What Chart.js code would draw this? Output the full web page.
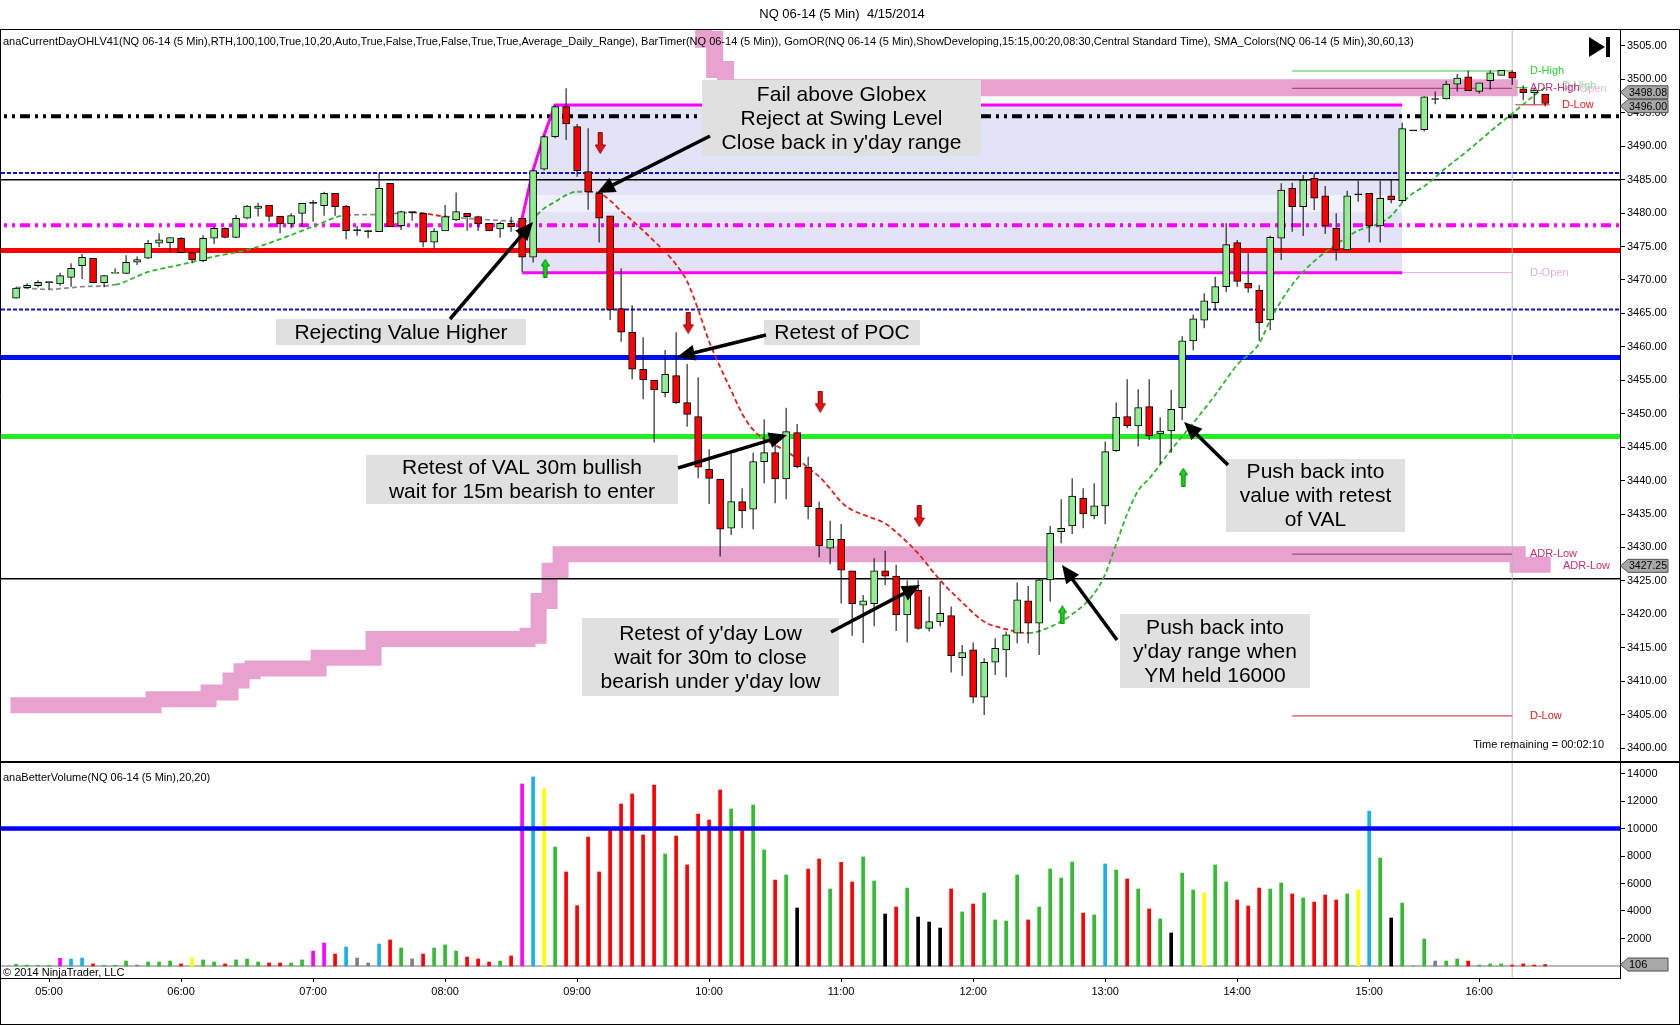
<!DOCTYPE html>
<html>
<head>
<meta charset="utf-8">
<title>NQ 06-14 (5 Min) 4/15/2014</title>
<script src="https://cdn.jsdelivr.net/npm/chart.js@4.4.1/dist/chart.umd.min.js"></script>
<style>
html,body{margin:0;padding:0;background:#fff;}
#wrap{position:relative;width:1680px;height:1025px;overflow:hidden;background:#fff;}
canvas{position:absolute;left:0;}
#c1{top:0;width:1680px;height:762px;}
#c2{top:762px;width:1680px;height:263px;}
</style>
</head>
<body>
<div id="wrap">
<canvas id="c1" width="1680" height="762"></canvas>
<canvas id="c2" width="1680" height="263"></canvas>
</div>
<script>
// ---------------- DATA ----------------
const times = ("04:45 04:50 04:55 05:00 05:05 05:10 05:15 05:20 05:25 05:30 05:35 05:40 05:45 05:50 05:55 " +
 "06:00 06:05 06:10 06:15 06:20 06:25 06:30 06:35 06:40 06:45 06:50 06:55 " +
 "07:00 07:05 07:10 07:15 07:20 07:25 07:30 07:35 07:40 07:45 07:50 07:55 " +
 "08:00 08:05 08:10 08:15 08:20 08:25 08:30 08:35 08:40 08:45 08:50 08:55 " +
 "09:00 09:05 09:10 09:15 09:20 09:25 09:30 09:35 09:40 09:45 09:50 09:55 " +
 "10:00 10:05 10:10 10:15 10:20 10:25 10:30 10:35 10:40 10:45 10:50 10:55 " +
 "11:00 11:05 11:10 11:15 11:20 11:25 11:30 11:35 11:40 11:45 11:50 11:55 " +
 "12:00 12:05 12:10 12:15 12:20 12:25 12:30 12:35 12:40 12:45 12:50 12:55 " +
 "13:00 13:05 13:10 13:15 13:20 13:25 13:30 13:35 13:40 13:45 13:50 13:55 " +
 "14:00 14:05 14:10 14:15 14:20 14:25 14:30 14:35 14:40 14:45 14:50 14:55 " +
 "15:00 15:05 15:10 15:15 15:30 15:35 15:40 15:45 15:50 15:55 " +
 "16:00 16:05 16:10 16:15 16:20 16:25 16:30").split(" ");

const open = [
 3467.3,3468.85,3469.15,3469.6,3469.4,3470.4,3472.15,3473.25,3469.6,3471.0,
 3471.0,3472.65,3473.25,3475.5,3475.6,3476.25,3474.1,3472.9,3476.25,3477.73,
 3476.35,3479.23,3480.72,3481.2,3479.57,3478.38,3479.97,3481.47,3481.12,3482.97,
 3481.07,3477.38,3477.23,3477.23,3484.46,3478.13,3480.07,3479.97,3475.64,3477.33,
 3478.97,3479.97,3479.47,3478.48,3477.63,3478.48,3479.23,3473.4,3486.56,3491.44,
 3495.93,3492.93,3486.2,3482.97,3479.58,3465.72,3462.18,3456.65,3455.05,3453.15,
 3455.7,3451.66,3449.57,3441.69,3440.24,3432.87,3436.86,3435.71,3442.84,3444.18,
 3440.24,3447.17,3441.99,3435.86,3429.9,3431.2,3426.5,3421.35,3421.6,3426.5,
 3425.7,3419.9,3423.6,3417.9,3418.9,3419.8,3413.52,3414.67,3407.59,3412.83,
 3414.67,3417.16,3422.0,3418.66,3425.14,3432.37,3433.22,3437.35,3434.71,3436.21,
 3444.48,3449.57,3448.17,3451.06,3446.97,3447.42,3450.91,3460.9,3464.0,3466.6,
 3469.0,3475.6,3469.5,3468.51,3464.02,3476.24,3483.71,3480.97,3485.21,3482.57,
 3477.73,3474.49,3482.72,3482.97,3478.08,3482.57,3481.87,3492.3,3492.5,3497.0,
 3497.1,3499.3,3500.4,3498.2,3499.8,3500.6,3501.1,3498.6,3498.0,3497.8];
const high = [
 3468.9,3469.5,3469.95,3469.6,3471.1,3472.5,3473.9,3473.25,3470.75,3471.75,
 3473.7,3473.5,3476.0,3477.0,3476.35,3476.4,3474.25,3476.7,3477.98,3477.88,
 3479.73,3481.2,3481.57,3481.2,3479.57,3479.97,3481.47,3481.97,3483.2,3482.97,
 3481.22,3478.08,3477.48,3485.95,3484.46,3480.37,3480.22,3479.97,3477.73,3481.22,
 3483.07,3479.97,3479.62,3478.48,3478.73,3479.47,3479.23,3486.45,3491.69,3496.18,
 3498.67,3493.33,3492.7,3482.97,3479.58,3471.75,3466.21,3461.43,3455.05,3459.54,
 3462.18,3457.44,3455.45,3444.68,3440.24,3443.98,3438.85,3444.18,3449.17,3445.83,
 3450.91,3448.47,3443.58,3436.86,3434.0,3433.5,3426.5,3422.9,3428.4,3429.5,
 3427.4,3425.1,3425.1,3422.65,3424.9,3421.15,3415.42,3415.77,3413.42,3416.42,
 3417.41,3424.74,3424.24,3425.39,3433.22,3437.2,3440.34,3438.85,3439.6,3445.83,
 3451.66,3455.15,3453.65,3455.15,3449.47,3453.55,3461.6,3464.8,3468.0,3470.5,
 3478.5,3476.0,3474.0,3469.26,3476.6,3484.46,3484.56,3485.7,3485.96,3484.06,
 3479.97,3483.36,3484.86,3482.97,3484.86,3484.96,3493.5,3492.3,3497.5,3498.2,
 3499.8,3500.8,3501.3,3499.5,3501.35,3501.35,3501.35,3499.1,3498.8,3497.8];
const low = [
 3467.2,3468.75,3468.9,3468.6,3469.15,3469.0,3470.15,3469.5,3468.9,3471.0,
 3470.9,3472.25,3473.15,3474.9,3474.25,3474.0,3472.5,3472.65,3475.4,3476.25,
 3476.25,3479.1,3479.5,3478.7,3477.0,3477.73,3477.97,3478.73,3479.62,3479.62,
 3476.1,3476.6,3476.25,3477.23,3477.98,3477.48,3478.88,3474.9,3474.64,3477.33,
 3478.83,3477.38,3477.33,3477.33,3476.33,3477.23,3471.25,3472.6,3486.36,3491.19,
 3490.94,3485.46,3480.5,3475.59,3464.02,3460.78,3455.15,3452.16,3445.68,3452.46,
 3451.46,3448.07,3440.34,3436.5,3428.63,3431.87,3432.87,3432.72,3439.6,3436.6,
 3437.2,3441.84,3434.2,3428.53,3427.5,3421.6,3416.8,3415.7,3418.2,3424.4,
 3417.5,3415.8,3417.7,3417.41,3418.16,3411.28,3410.78,3406.69,3404.95,3410.93,
 3410.58,3415.67,3415.67,3413.92,3421.9,3430.62,3432.02,3432.87,3434.21,3433.47,
 3444.33,3447.82,3445.08,3446.08,3442.49,3444.18,3449.07,3459.5,3462.8,3465.5,
 3468.2,3469.0,3468.1,3460.93,3462.5,3472.99,3477.23,3476.58,3480.47,3476.88,
 3472.9,3474.49,3481.72,3475.59,3475.59,3481.47,3481.5,3492.3,3492.2,3496.3,
 3497.0,3498.2,3498.3,3497.9,3498.5,3500.6,3499.15,3496.9,3496.3,3496.0];
const close = [
 3468.8,3469.2,3469.65,3469.6,3470.65,3471.75,3473.4,3469.6,3470.65,3471.05,
 3472.65,3473.05,3475.5,3476.0,3476.35,3474.1,3473.0,3476.25,3477.73,3476.35,
 3479.23,3481.07,3481.07,3479.5,3478.38,3479.62,3481.47,3481.47,3482.97,3480.97,
 3477.38,3477.38,3477.23,3483.7,3477.98,3480.22,3480.07,3475.64,3477.33,3479.47,
 3480.22,3479.47,3478.38,3477.33,3478.48,3477.98,3473.4,3486.35,3491.44,3495.93,
 3493.33,3486.36,3483.2,3479.23,3465.52,3462.18,3456.65,3455.05,3453.55,3455.9,
 3451.66,3449.9,3441.99,3440.34,3432.72,3436.86,3435.46,3442.84,3444.18,3440.24,
 3447.32,3442.09,3436.1,3430.22,3431.2,3426.6,3421.6,3422.0,3426.5,3425.7,
 3419.9,3424.0,3417.9,3418.9,3420.15,3413.82,3414.27,3407.59,3412.83,3414.92,
 3416.92,3422.15,3418.66,3425.14,3432.12,3432.87,3437.7,3435.01,3436.21,3444.33,
 3449.47,3448.17,3450.91,3446.67,3447.42,3450.66,3460.9,3464.2,3466.9,3469.0,
 3475.3,3469.8,3468.76,3463.62,3476.39,3483.46,3480.97,3484.96,3482.22,3478.08,
 3474.49,3482.57,3482.72,3478.08,3482.22,3481.97,3492.65,3492.3,3497.4,3497.0,
 3499.3,3500.2,3498.3,3499.5,3501.0,3501.35,3500.2,3498.0,3498.4,3496.4];

const volume = [
 120,70,50,50,560,510,580,150,50,50,
 360,70,290,290,360,150,610,440,290,150,
 440,510,290,220,220,220,440,1090,1670,870,
 1380,580,220,1600,1890,1310,510,870,1310,1530,
 1090,650,510,290,360,730,13240,13750,12900,8650,
 6840,4390,9380,6840,9890,11780,12510,9530,13160,8150,
 9450,7350,11050,10620,12800,11420,9890,11710,8440,6250,
 6620,4220,7050,7780,5600,7540,6110,7930,6180,3780,
 4290,5670,3560,3200,2760,5600,3930,4510,5310,3350,
 3270,6620,3350,4290,7050,6400,7560,3850,3710,7420,
 6980,6330,5600,4150,3420,2400,6760,5530,5310,7350,
 6110,4800,4360,5670,5600,6040,5240,4950,4650,5160,
 4800,5240,5530,11270,7850,3490,4580,0,1960,360,
 360,510,360,70,150,150,70,150,70,106];
// volume colour class per bar: g up, r down, k black, c cyan, m magenta, y yellow, a gray
const volColorCodes = ("ggggmccrgg gagggryggr gggrrggmmr caacrgargg grrrgrmcyg rrrrrrrrrg " +
 "rrrrrgrggr gkrrgrrggk rgkkkrgrgg ggrggggrgc grgrgkggyg grrrggrgrr rgycgkggga ggrgggrrrr").replace(/ /g, "");

// SMA (colour-coded) read at bar indices
const maIdx = [0,3,6,9,12,15,18,21,24,27,30,33,36,39,42,45,46,47,48,49,
 50,51,52,53,54,55,56,57,58,59,60,61,62,63,64,65,66,67,68,69,70,71,72,73,74,75,76,77,78,79,80,81,82,
 84,86,88,90,92,94,96,98,99,100,101,102,103,105,107,109,111,113,114,116,118,120,122,124,125,126,127,128,
 130,132,134,136,138,139];
const maVal = [3468.9,3468.6,3469.0,3469.3,3471.2,3472.3,3473.5,3474.5,3476.1,3478.0,3479.7,3479.8,3480.1,3479.5,3479.1,3478.8,3478.7,3479.3,3480.7,3481.7,
 3482.7,3483.2,3483.2,3483.0,3481.9,3480.3,3478.9,3477.4,3475.8,3474.2,3472.3,3469.8,3465.6,3460.8,3457.0,3453.5,3450.0,3447.6,3446.2,3445.3,
 3444.4,3443.3,3441.9,3440.6,3438.8,3436.8,3435.6,3434.9,3434.3,3433.6,3432.3,3430.8,3429.1,
 3425.1,3421.8,3418.9,3417.8,3417.2,3418.1,3420.0,3423.1,3426.0,3430.5,3435.0,3438.5,3440.3,3444.6,3448.6,3452.8,3457.3,3460.5,3464.0,3469.3,3472.8,3475.3,3477.4,3478.5,3479.6,3481.5,3483.0,3484.0,
 3486.8,3489.4,3492.2,3494.9,3497.6,3498.8];

// Horizontal reference levels
const levelPrices = [3494.5, 3486.0, 3485.0, 3478.2, 3474.4, 3465.6, 3458.4, 3446.6, 3425.3];

// Opening range (developing high, fixed low)
const orIdx = [46, 47, 48, 49, 126];
const orHigh = [3479.23, 3486.45, 3491.69, 3496.18, 3496.18];
const orLow = 3471.1;
const orMidBand = [3480.2, 3482.7];

// ADR bands: [fromBar, toBar, value]
const adrLowSteps = [[0,12,3406.4],[13,17,3407.3],[18,19,3408.3],[20,20,3410.1],[21,21,3411.5],[22,27,3411.9],
 [28,32,3413.5],[33,46,3416.3],[47,47,3416.8],[48,48,3422.0],[49,49,3426.5],[50,136,3429.0],[137,139,3427.4]];
const adrHighSteps = [[60,62,3512.0],[63,63,3506.0],[64,64,3501.5],[65,136,3498.75]];

// Short current-day lines on the right: value, from bar, to bar
const dayLineVal  = [3501.26, 3498.67, 3429.0, 3404.8, 3471.1, 3498.8, 3496.2];
const dayLineFrom = [116, 116, 116, 116, 126, 136.3, 136.3];
const dayLineTo   = [136, 136, 136, 136, 136, 137.4, 139.4];

// Signal arrows
const downIdx = [53.1, 61.1, 73.1, 82.1];
const downPrice = [3490.5, 3463.6, 3451.8, 3434.7];
const upIdx = [48.1, 95.1, 106.1];
const upPrice = [3471.75, 3419.9, 3440.5];

const sessionEndIdx = 136;
const priceTicks = [3400,3405,3410,3415,3420,3425,3430,3435,3440,3445,3450,3455,3460,3465,3470,3475,3480,3485,3490,3495,3500,3505];
const volTicks = [2000,4000,6000,8000,10000,12000,14000];
const volRefLevel = 10000;
const priceMarkers = [3498.08, 3496.00, 3427.25];
const volMarker = 106;

// ---------------- STYLE / LAYOUT ----------------
const FONT = "'Liberation Sans', Arial, sans-serif";
Chart.defaults.font.family = FONT;
Chart.defaults.font.size = 11;
Chart.defaults.color = '#000';
const X_MIN = -1.46, X_MAX = 145.8;
const UP = '#90ee90', DOWN = '#ff0000';
const VOLCOL = {g:'#33bb33', r:'#ff0000', k:'#000000', c:'#1ab0e8', m:'#ff00ff', y:'#ffff00', a:'#808080'};
const hourIdx = times.map((t,i)=> t.endsWith(':00') ? i : -1).filter(i=>i>=0);

function makeArrow(down) {
  const c = document.createElement('canvas');
  const w = down ? 11 : 9, h = down ? 22 : 19;
  c.width = w; c.height = h;
  const g = c.getContext('2d');
  g.beginPath();
  if (down) {
    g.moveTo(3.5,0.5); g.lineTo(7.5,0.5); g.lineTo(7.5,13); g.lineTo(10.5,13); g.lineTo(5.5,21.5);
    g.lineTo(0.5,13); g.lineTo(3.5,13); g.closePath();
    g.fillStyle = '#e81010'; g.strokeStyle = '#8a0000';
  } else {
    g.moveTo(4.5,0.5); g.lineTo(8.5,7); g.lineTo(6.2,7); g.lineTo(6.2,18.5); g.lineTo(2.8,18.5);
    g.lineTo(2.8,7); g.lineTo(0.5,7); g.closePath();
    g.fillStyle = '#11dd11'; g.strokeStyle = '#007700';
  }
  g.lineWidth = 1; g.fill(); g.stroke();
  return c;
}

function hline(v, from, to) { return [{x:from, y:v}, {x:to, y:v}]; }
function stepsToPoints(steps) {
  const pts = [];
  steps.forEach(s => { pts.push({x:s[0]-0.5, y:s[2]}); pts.push({x:s[1]+0.5, y:s[2]}); });
  return pts;
}

const levelStyles = [
  {c:'#000000', w:4, d:[10,5,3,5,3,5]},
  {c:'#1010d0', w:2, d:[4,2]},
  {c:'#000000', w:1.5, d:[]},
  {c:'#ff00ff', w:4, d:[10,5,3,5,3,5]},
  {c:'#ff0000', w:5, d:[]},
  {c:'#1010d0', w:2, d:[4,2]},
  {c:'#0010f0', w:5, d:[]},
  {c:'#22ee22', w:5, d:[]},
  {c:'#000000', w:1.5, d:[]}
];
const dayLineColors = ['#33cc33', '#a0306e', '#a0306e', '#cc2020', '#e2a8e2', '#33cc33', '#cc2020'];

const ds = [];
// signal arrows
ds.push({type:'line', data: downIdx.map((x,k)=>({x, y:downPrice[k]})), showLine:false, pointStyle: makeArrow(true), pointRadius:5, order:0});
ds.push({type:'line', data: upIdx.map((x,k)=>({x, y:upPrice[k]})), showLine:false, pointStyle: makeArrow(false), pointRadius:5, order:0});
// candle bodies and wicks
ds.push({type:'bar', data: open.map((o,i)=>({x:i, y:[o, close[i]]})),
  backgroundColor: open.map((o,i)=> close[i] > o ? UP : (close[i] < o ? DOWN : '#000')),
  borderColor:'#000', borderWidth:1, borderSkipped:false, barThickness:7, grouped:false, minBarLength:1, order:1});
ds.push({type:'bar', data: low.map((l,i)=>({x:i, y:[l, high[i]]})), backgroundColor:'#000',
  borderWidth:0, barThickness:1, grouped:false, inflateAmount:0, order:2});
// moving average, colour by slope
ds.push({type:'line', data: maIdx.map((x,k)=>({x, y:maVal[k]})), borderWidth:1.8, borderDash:[5,3],
  pointRadius:0, cubicInterpolationMode:'monotone', order:3, borderColor:'#33bb33',
  segment:{borderColor: c => { const s = (c.p1.parsed.y - c.p0.parsed.y)/(c.p1.parsed.x - c.p0.parsed.x);
     return s > 0.15 ? '#2fb52f' : (s < -0.15 ? '#e02020' : '#8c8c8c'); }}});
// opening range lines
ds.push({type:'line', data: orIdx.map((x,k)=>({x, y:orHigh[k]})), borderColor:'#ff00ff', borderWidth:3, pointRadius:0, order:4});
ds.push({type:'line', data: hline(orLow, orIdx[0], orIdx[orIdx.length-1]), borderColor:'#ff00ff', borderWidth:3, pointRadius:0, order:4});
// right-side day lines
dayLineVal.forEach((v,k)=> ds.push({type:'line', data: hline(v, dayLineFrom[k], dayLineTo[k]), borderColor: dayLineColors[k], borderWidth:1, pointRadius:0, order:5}));
// session end vertical
ds.push({type:'line', data:[{x:sessionEndIdx, y:3390},{x:sessionEndIdx, y:3520}], borderColor:'#b8b8b8', borderWidth:1, pointRadius:0, order:5});
// levels
levelPrices.forEach((v,k)=> ds.push({type:'line', data: hline(v, X_MIN-1, X_MAX+1), borderColor: levelStyles[k].c,
  borderWidth: levelStyles[k].w, borderDash: levelStyles[k].d, pointRadius:0, order:6}));
// ADR bands
ds.push({type:'line', data: stepsToPoints(adrLowSteps), borderColor:'#e8a2cf', borderWidth:16, borderJoinStyle:'miter', pointRadius:0, order:7});
ds.push({type:'line', data: stepsToPoints(adrHighSteps), borderColor:'#e8a2cf', borderWidth:17, borderJoinStyle:'miter', pointRadius:0, order:7});
// OR box fills
ds.push({type:'line', data: hline(orMidBand[1], orIdx[1], orIdx[orIdx.length-1]), fill:{value: orMidBand[0]}, backgroundColor:'#f1f1fc', borderWidth:0, pointRadius:0, order:8});
ds.push({type:'line', data: orIdx.map((x,k)=>({x, y:orHigh[k]})), fill:{value: orLow}, backgroundColor:'#e3e3f8', borderWidth:0, pointRadius:0, order:9});

// ---------------- annotations (overlay) ----------------
const annBoxes = [
  {x:702, y:80, w:279, h:76, lines:['Fail above Globex','Reject at Swing Level',"Close back in y'day range"]},
  {x:276, y:319, w:250, h:26, lines:['Rejecting Value Higher']},
  {x:764, y:320, w:156, h:25, lines:['Retest of POC']},
  {x:366, y:455, w:312, h:49, lines:['Retest of VAL 30m bullish','wait for 15m bearish to enter']},
  {x:582, y:618, w:257, h:78, lines:["Retest of y'day Low",'wait for 30m to close',"bearish under y'day low"]},
  {x:1120, y:614, w:190, h:74, lines:['Push back into',"y'day range when",'YM held 16000']},
  {x:1226, y:459, w:179, h:73, lines:['Push back into','value with retest','of VAL']}
];
const annArrows = [
  [710,136,597,193],[450,319,533,222],[766,335,677,357],[678,468,787,435],
  [831,632,920,585],[1117,640,1062,565],[1228,465,1184,422]
];
const rightLabels = [
  {t:'D-High', c:'#33cc33', x:1530, v:3501.26},
  {t:'D-High', c:'#90e090', x:1562, v:3498.95},
  {t:'D-Open', c:'#e6b6e2', x:1568, v:3498.55},
  {t:'ADR-High', c:'#b8307e', x:1530, v:3498.67},
  {t:'D-Low', c:'#e02020', x:1562, v:3496.2},
  {t:'D-Open', c:'#dcb0dc', x:1530, v:3471.1},
  {t:'ADR-Low', c:'#c8306e', x:1530, v:3429.0},
  {t:'ADR-Low', c:'#c8306e', x:1563, v:3427.25},
  {t:'D-Low', c:'#e02020', x:1530, v:3404.8}
];

function drawArrow(ctx, x1, y1, x2, y2) {
  const a = Math.atan2(y2-y1, x2-x1), L = 18, W = 8;
  ctx.strokeStyle = '#000'; ctx.fillStyle = '#000'; ctx.lineWidth = 3.5; ctx.lineCap = 'butt';
  ctx.beginPath(); ctx.moveTo(x1,y1); ctx.lineTo(x2 - L*0.7*Math.cos(a), y2 - L*0.7*Math.sin(a)); ctx.stroke();
  ctx.beginPath(); ctx.moveTo(x2,y2);
  ctx.lineTo(x2 - L*Math.cos(a) + W*Math.sin(a), y2 - L*Math.sin(a) - W*Math.cos(a));
  ctx.lineTo(x2 - L*Math.cos(a) - W*Math.sin(a), y2 - L*Math.sin(a) + W*Math.cos(a));
  ctx.closePath(); ctx.fill();
}
function drawMarker(ctx, xAxis, y, text) {
  ctx.save();
  ctx.beginPath();
  ctx.moveTo(xAxis+0.5, y); ctx.lineTo(xAxis+8, y-6.5); ctx.lineTo(xAxis+48, y-6.5);
  ctx.lineTo(xAxis+48, y+6.5); ctx.lineTo(xAxis+8, y+6.5); ctx.closePath();
  ctx.fillStyle = '#a8a8a8'; ctx.fill(); ctx.strokeStyle = '#505050'; ctx.lineWidth = 1; ctx.stroke();
  ctx.fillStyle = '#000'; ctx.font = '11px ' + FONT; ctx.textAlign = 'left'; ctx.textBaseline = 'middle';
  ctx.fillText(text, xAxis+9, y+0.5, 38);
  ctx.restore();
}
function noPad(s) { s.width = 60; s.paddingTop = 0; s.paddingBottom = 0; }

const overlay1 = {
  id:'overlay1',
  afterDatasetsDraw(chart) {
    const ctx = chart.ctx, y = chart.scales.y;
    ctx.save();
    // header
    ctx.fillStyle = '#000'; ctx.font = '11px ' + FONT; ctx.textAlign = 'left'; ctx.textBaseline = 'middle';
    ctx.fillText('anaCurrentDayOHLV41(NQ 06-14 (5 Min),RTH,100,100,True,10,20,Auto,True,False,True,False,True,True,Average_Daily_Range), BarTimer(NQ 06-14 (5 Min)), GomOR(NQ 06-14 (5 Min),ShowDeveloping,15:15,00:20,08:30,Central Standard Time), SMA_Colors(NQ 06-14 (5 Min),30,60,13)', 3, 42, 1411);
    // right labels
    rightLabels.forEach(l => { ctx.fillStyle = l.c; ctx.fillText(l.t, l.x, y.getPixelForValue(l.v)); });
    ctx.fillStyle = '#000'; ctx.textAlign = 'right';
    ctx.fillText('Time remaining = 00:02:10', 1604, 745);
    // play icon
    ctx.beginPath(); ctx.moveTo(1589,37); ctx.lineTo(1605,47); ctx.lineTo(1589,57); ctx.closePath(); ctx.fill();
    ctx.fillRect(1606,37,4,20);
    // annotation boxes
    annBoxes.forEach(b => {
      ctx.fillStyle = '#e0e0e0'; ctx.fillRect(b.x, b.y, b.w, b.h);
      ctx.fillStyle = '#000'; ctx.font = '21px ' + FONT; ctx.textAlign = 'center'; ctx.textBaseline = 'middle';
      const n = b.lines.length, cy = b.y + b.h/2;
      b.lines.forEach((t,k) => ctx.fillText(t, b.x + b.w/2, cy + (k - (n-1)/2)*24 + 1));
    });
    annArrows.forEach(a => drawArrow(ctx, a[0], a[1], a[2], a[3]));
    ctx.restore();
  },
  afterDraw(chart) {
    const ctx = chart.ctx, y = chart.scales.y, a = chart.chartArea;
    ctx.save();
    ctx.fillStyle = '#000'; ctx.font = '13px ' + FONT; ctx.textAlign = 'center'; ctx.textBaseline = 'middle';
    ctx.fillText('NQ 06-14 (5 Min)  4/15/2014', 842, 14);
    priceMarkers.forEach(v => drawMarker(ctx, a.right, y.getPixelForValue(v), v.toFixed(2)));
    ctx.strokeStyle = '#000'; ctx.lineWidth = 1;
    ctx.beginPath();
    ctx.moveTo(0, 29.5); ctx.lineTo(1680, 29.5);
    ctx.moveTo(0.5, 29); ctx.lineTo(0.5, 762);
    ctx.moveTo(1679.5, 29); ctx.lineTo(1679.5, 762);
    ctx.moveTo(0, 761.5); ctx.lineTo(1680, 761.5);
    ctx.stroke();
    ctx.restore();
  }
};

new Chart(document.getElementById('c1'), {
  type:'bar',
  data:{datasets: ds},
  plugins:[overlay1],
  options:{
    responsive:false, animation:false, devicePixelRatio:1,
    layout:{autoPadding:false, padding:{top:29, bottom:1, left:0, right:0}},
    plugins:{legend:{display:false}, tooltip:{enabled:false}},
    scales:{
      x:{type:'linear', min:X_MIN, max:X_MAX, offset:false, display:false, grid:{offset:false}},
      y:{type:'linear', position:'right', min:3398.06, max:3507.54,
         afterFit: noPad,
         afterBuildTicks(s){ s.ticks = priceTicks.map(v=>({value:v})); },
         ticks:{callback:v=>Number(v).toFixed(2), padding:2, color:'#000', font:{size:11}},
         grid:{drawOnChartArea:false, drawTicks:true, tickLength:5, color:'#000'},
         border:{display:true, color:'#000', width:1}}
    }
  }
});

// ---------------- volume panel ----------------
const overlay2 = {
  id:'overlay2',
  afterDatasetsDraw(chart) {
    const ctx = chart.ctx;
    ctx.save();
    ctx.fillStyle = '#000'; ctx.font = '11px ' + FONT; ctx.textAlign = 'left'; ctx.textBaseline = 'middle';
    ctx.fillText('anaBetterVolume(NQ 06-14 (5 Min),20,20)', 3, 16, 208);
    ctx.fillText('\u00a9 2014 NinjaTrader, LLC', 3, 211, 124);
    ctx.restore();
  },
  afterDraw(chart) {
    const ctx = chart.ctx, a = chart.chartArea;
    ctx.save();
    drawMarker(ctx, a.right, chart.scales.y.getPixelForValue(volMarker), String(volMarker));
    ctx.strokeStyle = '#000'; ctx.lineWidth = 1;
    ctx.beginPath();
    ctx.moveTo(0, 0.5); ctx.lineTo(1680, 0.5);
    ctx.moveTo(0.5, 0); ctx.lineTo(0.5, 263);
    ctx.moveTo(1679.5, 0); ctx.lineTo(1679.5, 263);
    ctx.moveTo(0, 262.5); ctx.lineTo(1680, 262.5);
    ctx.moveTo(0, a.bottom + 0.5); ctx.lineTo(a.right, a.bottom + 0.5);
    ctx.stroke();
    ctx.restore();
  }
};

new Chart(document.getElementById('c2'), {
  type:'bar',
  data:{datasets:[
    {type:'line', data: hline(volRefLevel, X_MIN-1, X_MAX+1), borderColor:'#0000ff', borderWidth:4.5, pointRadius:0, order:0},
    {type:'bar', data: volume.map((v,i)=>({x:i, y:v})), backgroundColor: volume.map((v,i)=> VOLCOL[volColorCodes[i]]),
      borderWidth:0, barThickness:3, grouped:false, order:1},
    {type:'line', data: hline(0, X_MIN-1, X_MAX+1), borderColor:'#a0a0a0', borderWidth:1.5, pointRadius:0, order:2},
    {type:'line', data:[{x:sessionEndIdx, y:-2000},{x:sessionEndIdx, y:16000}], borderColor:'#b8b8b8', borderWidth:1, pointRadius:0, order:2}
  ]},
  plugins:[overlay2],
  options:{
    responsive:false, animation:false, devicePixelRatio:1,
    layout:{autoPadding:false, padding:{top:1, bottom:0, left:0, right:0}},
    plugins:{legend:{display:false}, tooltip:{enabled:false}},
    scales:{
      x:{type:'linear', min:X_MIN, max:X_MAX, offset:false,
         afterFit(s){ s.height = 47; s.paddingLeft = 0; s.paddingRight = 0; },
         afterBuildTicks(s){ s.ticks = hourIdx.map(v=>({value:v})); },
         ticks:{callback:v=>times[v], autoSkip:false, maxRotation:0, padding:3, color:'#000', font:{size:11}},
         grid:{drawOnChartArea:false, drawTicks:true, tickLength:4, color:'#000', offset:false},
         border:{display:true, color:'#000', width:1}},
      y:{type:'linear', position:'right', min:-873, max:14764,
         afterFit: noPad,
         afterBuildTicks(s){ s.ticks = volTicks.map(v=>({value:v})); },
         ticks:{callback:v=>String(v), padding:2, color:'#000', font:{size:11}},
         grid:{drawOnChartArea:false, drawTicks:true, tickLength:5, color:'#000'},
         border:{display:true, color:'#000', width:1}}
    }
  }
});
</script>
</body>
</html>
